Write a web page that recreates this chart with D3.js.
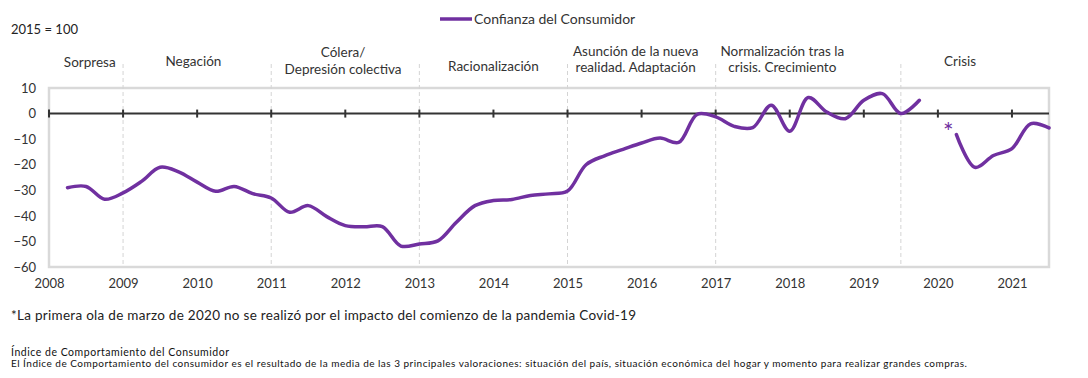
<!DOCTYPE html>
<html><head><meta charset="utf-8">
<script src="https://cdn.jsdelivr.net/npm/d3@7"></script>
<style>
html,body{margin:0;padding:0;background:#fff;}
svg{display:block;font-family:Lato,"Open Sans",sans-serif;}
</style></head>
<body><svg id="c" width="1088" height="378"></svg>
<script>
const periods = [
"2008-T2","2008-T3","2008-T4",
"2009-T1","2009-T2","2009-T3","2009-T4",
"2010-T1","2010-T2","2010-T3","2010-T4",
"2011-T1","2011-T2","2011-T3","2011-T4",
"2012-T1","2012-T2","2012-T3","2012-T4",
"2013-T1","2013-T2","2013-T3","2013-T4",
"2014-T1","2014-T2","2014-T3","2014-T4",
"2015-T1","2015-T2","2015-T3","2015-T4",
"2016-T1","2016-T2","2016-T3","2016-T4",
"2017-T1","2017-T2","2017-T3","2017-T4",
"2018-T1","2018-T2","2018-T3","2018-T4",
"2019-T1","2019-T2","2019-T3","2019-T4",
"2020-T1","2020-T2","2020-T3","2020-T4",
"2021-T1","2021-T2","2021-T3"];
const confianza = [
-29,-28.5,-33.5,
-31,-26.5,-21,-22.8,
-26.8,-30.4,-28.5,-31.3,
-33,-38.6,-36,-40.3,
-43.8,-44.3,-44.2,-51.8,
-51,-49.8,-42.5,-36,
-34,-33.6,-32,-31.4,
-30.3,-20,-16.5,-14,
-11.5,-9.6,-11.3,-0.3,
-1.3,-5.0,-5.5,3.3,
-6.9,6.3,0.6,-2,
5.2,7.8,0,5.2,
null,-8.2,-21,-16.4,
-13.7,-4.0,-5.6];
const years = [2008,2009,2010,2011,2012,2013,2014,2015,2016,2017,2018,2019,2020,2021];
const yTicks = [10,0,-10,-20,-30,-40,-50,-60];
const phaseBounds = [2009,2011,2013,2015,2017,2019.5];
const phaseLabels = [
 {pos:2008.55, lines:["Sorpresa"], dy:[67]},
 {pos:2009.95, lines:["Negación"], dy:[65.5]},
 {pos:2011.97, lines:["Cólera/","Depresión colectiva"], dy:[56.5,73.5]},
 {pos:2014.0, lines:["Racionalización"], dy:[70.5]},
 {pos:2015.92, lines:["Asunción de la nueva","realidad. Adaptación"], dy:[55.5,72]},
 {pos:2017.9, lines:["Normalización tras la","crisis. Crecimiento"], dy:[55.5,72]},
 {pos:2020.3, lines:["Crisis"], dy:[65.5]}
];
const missingPeriod = "2020-T1";

const purple = "#7030A0";
const svg = d3.select("#c");
const x = d3.scaleLinear().domain([2008, 2021.5]).range([49, 1049]);
const y = d3.scaleLinear().domain([-60, 10]).range([267, 88]);

const data = periods.map((p,i)=>{
  const [yr,q] = p.split("-T");
  return {t: +yr + (+q - 1)/4, v: confianza[i], p};
});

// frame
svg.append("rect").attr("x", x(2008)).attr("y", y(10))
  .attr("width", x(2021.5)-x(2008)).attr("height", y(-60)-y(10))
  .attr("fill","none").attr("stroke","#d9d9d9").attr("stroke-width",2.5);

// phase boundaries
svg.append("g").selectAll("line").data(phaseBounds).join("line")
  .attr("x1", d=>x(d)).attr("x2", d=>x(d)).attr("y1", 64).attr("y2", y(-60))
  .attr("stroke","#d4d4d4").attr("stroke-width",1).attr("stroke-dasharray","4,3");

// phase labels
const pl = svg.append("g").attr("font-size","13.5px").attr("fill","#333").attr("text-anchor","middle");
phaseLabels.forEach(l=>{
  l.lines.forEach((t,i)=>{
    pl.append("text").attr("x", x(l.pos)).attr("y", l.dy[i]).text(t);
  });
});

// zero line with year ticks
svg.append("line").attr("x1", x(2008)).attr("x2", x(2021.5)).attr("y1", y(0)).attr("y2", y(0))
  .attr("stroke","#333").attr("stroke-width",2);
svg.append("g").selectAll("line").data(years).join("line")
  .attr("x1", d=>x(d)).attr("x2", d=>x(d)).attr("y1", y(0)-4).attr("y2", y(0)+4)
  .attr("stroke","#333").attr("stroke-width",2);

// y axis
const ya = svg.append("g").attr("transform",`translate(${x(2008)},0)`)
  .call(d3.axisLeft(y).tickValues(yTicks).tickSize(0).tickPadding(13).tickFormat(d3.format("d")));
ya.select(".domain").remove();
ya.selectAll("text").attr("font-size","13px").attr("fill","#333").attr("font-family","Lato,sans-serif");

// x axis
const xa = svg.append("g").attr("transform",`translate(0,${y(-60)})`)
  .call(d3.axisBottom(x).tickValues(years).tickSize(0).tickPadding(12).tickFormat(d3.format("d")));
xa.select(".domain").remove();
xa.selectAll("text").attr("font-size","13px").attr("fill","#333").attr("font-family","Lato,sans-serif");

// line
const line = d3.line().defined(d=>d.v!=null).x(d=>x(d.t)).y(d=>y(d.v)).curve(d3.curveCatmullRom.alpha(0.5));
svg.append("path").datum(data).attr("d", line).attr("fill","none")
  .attr("stroke", purple).attr("stroke-width",3.5).attr("stroke-linecap","round");

// asterisk for missing wave
const miss = data.find(d=>d.p===missingPeriod);
svg.append("text").attr("x", x(miss.t + 0.14)).attr("y", y(-10.8)).attr("text-anchor","middle")
  .attr("font-size","25px").attr("fill", purple).text("*");

// legend
svg.append("line").attr("x1",440).attr("x2",472).attr("y1",19).attr("y2",19)
  .attr("stroke",purple).attr("stroke-width",3.5);
svg.append("text").attr("x",474).attr("y",24).attr("font-size","14px").attr("fill","#333")
  .text("Confianza del Consumidor");

// unit
svg.append("text").attr("x",11).attr("y",34).attr("font-size","13px").attr("fill","#222").text("2015 = 100");

// footnotes
svg.append("text").attr("x",11).attr("y",320).attr("font-size","13.5px").attr("fill","#222")
  .attr("textLength",625).attr("lengthAdjust","spacing")
  .text("*La primera ola de marzo de 2020 no se realizó por el impacto del comienzo de la pandemia Covid-19");
svg.append("text").attr("x",11).attr("y",356).attr("font-size","10.5px").attr("fill","#111")
  .attr("textLength",218).attr("lengthAdjust","spacing")
  .text("Índice de Comportamiento del Consumidor");
svg.append("text").attr("x",11).attr("y",367).attr("font-size","10px").attr("fill","#111")
  .attr("textLength",956).attr("lengthAdjust","spacing")
  .text("El Índice de Comportamiento del consumidor es el resultado de la media de las 3 principales valoraciones: situación del país, situación económica del hogar y momento para realizar grandes compras.");
</script></body></html>
